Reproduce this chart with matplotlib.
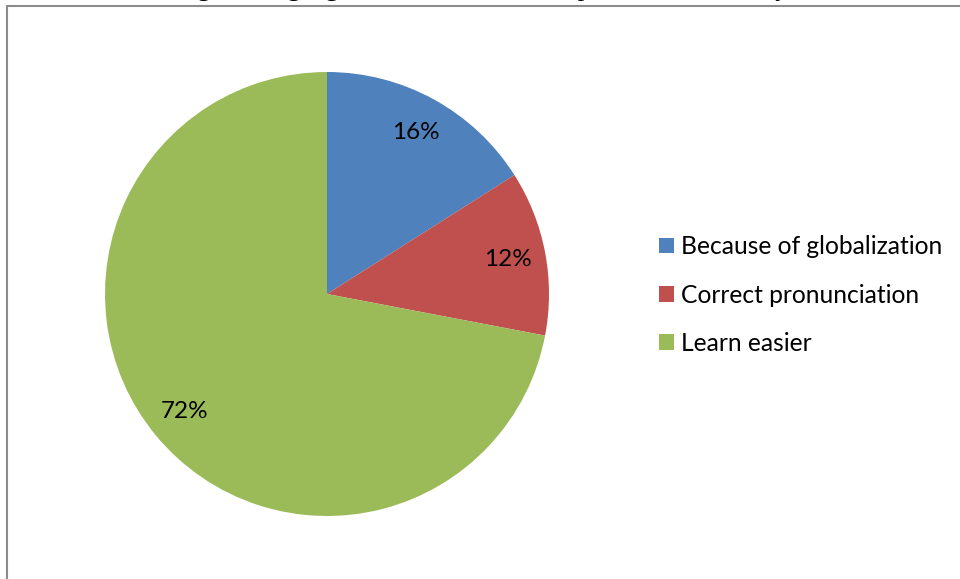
import matplotlib
matplotlib.use("Agg")
import matplotlib.pyplot as plt
from matplotlib.patches import Rectangle

# Data
categories = ["Because of globalization", "Correct pronunciation", "Learn easier"]
shares = [16, 12, 72]
colors = ["#4F81BD", "#C0504D", "#9BBB59"]
caption = "Figure 5: Reasons of English language choice in the area of pronunciation study"

W, H = 960, 579
fig = plt.figure(figsize=(W / 100, H / 100), dpi=100)
fig.patch.set_facecolor("white")

# caption line sitting just above the top edge (only descenders show)
fig.text(-0.06, 1 + 4.0 / H, caption, family="Liberation Serif", fontsize=19,
         va="baseline", ha="left", color="black")

# chart frame
fig.patches.append(Rectangle((7 / W, -0.05), 1.0, 1.05 - 6 / H,
                             transform=fig.transFigure, fill=False,
                             edgecolor="#8C8C8C", linewidth=1.5))

# pie axes: centre (327, 294), radius 222 px
cx, cy, r = 327, 294, 222
ax = fig.add_axes([(cx - r) / W, (H - cy - r) / H, 2 * r / W, 2 * r / H])
wedges, texts, autotexts = ax.pie(
    shares, colors=colors, startangle=90, counterclock=False, radius=1,
    autopct=lambda p: f"{p:.0f}%", pctdistance=0.83,
    textprops=dict(family="Lato", fontsize=17.5, color="black"),
    wedgeprops=dict(linewidth=0))
ax.set_xlim(-1, 1)
ax.set_ylim(-1, 1)
ax.set_aspect("equal")
ax.axis("off")

# legend
leg = fig.legend(wedges, categories, loc="upper left",
                 bbox_to_anchor=(647 / W, 1 - 223 / H), frameon=False,
                 prop=dict(family="Lato", size=17.7),
                 handlelength=0.6, handleheight=0.6, handletextpad=0.3,
                 labelspacing=1.03, borderpad=0)

fig.savefig("out.png", dpi=100)
